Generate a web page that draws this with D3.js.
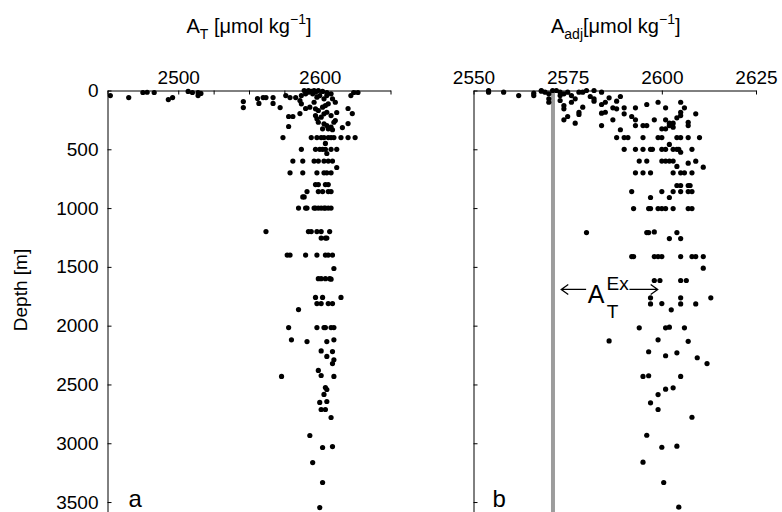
<!DOCTYPE html>
<html><head><meta charset="utf-8">
<script src="https://cdn.jsdelivr.net/npm/d3@7"></script>
<style>
body{margin:0;background:#fff}
svg{display:block}
text{font-family:"Liberation Sans",Arial,Helvetica,sans-serif;fill:#000}
</style>
</head><body>
<svg id="c" width="782" height="512"></svg>
<script>
// ---------- data ----------
const depthTicks = [0, 500, 1000, 1500, 2000, 2500, 3000, 3500];
const alkTTicks = [2450, 2475, 2500, 2525, 2550, 2575, 2600, 2625, 2650];
const alkTLabels = [2500, 2600];
const alkAdjTicks = [2550, 2575, 2600, 2625];
const alkExcessLine = 2571.1;               // grey reference line in panel b
const panelLabels = ["a", "b"];

// panel a: [A_T, depth]
const samplesT = [
  [2452,43],[2465,60],[2475,17],[2478,15],[2483,17],[2493,77],[2496,60],[2507,8],[2510,17],[2514,17],
  [2514,43],[2516,25],[2546,94],[2546,145],[2556,68],[2560,60],[2562,60],[2567,60],[2557,110],[2567,110],
  [2572,145],[2576,43],[2579,60],[2583,60],[2578,221],[2581,221],[2578,306],[2586,196],[2590,153],[2624,17],
  [2627,17],[2622,43],[2620,153],[2623,196],[2620,281],[2616,315],[2612,187],[2611,255],[2587,43],[2590,28],
  [2592,14],[2595,28],[2597,14],[2599,0],[2589,0],[2592,0],[2596,0],[2600,43],[2603,71],[2605,43],
  [2608,28],[2609,71],[2611,100],[2598,57],[2596,100],[2593,142],[2597,156],[2599,170],[2602,142],[2604,128],
  [2606,113],[2597,213],[2598,241],[2601,227],[2603,198],[2605,185],[2608,213],[2599,270],[2603,283],[2605,298],
  [2608,312],[2610,270],[2606,326],[2609,334],[2602,326],[2586,85],[2587,113],[2602,8],[2605,17],[2594,8],
  [2574,400],[2594,400],[2598,400],[2601,400],[2603,400],[2606,400],[2608,400],[2610,400],[2615,400],[2620,400],[2625,400],
  [2604,450],
  [2587,500],[2597,500],[2600,500],[2602,500],[2604,500],[2608,500],[2612,500],
  [2605,536],
  [2581,600],[2588,600],[2596,600],[2599,600],[2603,600],[2606,600],[2609,600],
  [2612,655],
  [2579,700],[2588,700],[2598,700],[2603,700],[2605,700],[2608,700],
  [2597,800],[2599,800],[2604,800],[2606,800],
  [2591,860],[2599,860],[2602,860],[2606,860],[2608,860],
  [2588,905],[2589,905],
  [2585,1000],[2590,1000],[2591,1000],[2596,1000],[2597,1000],[2599,1000],[2601,1000],[2603,1000],[2604,1000],[2606,1000],[2608,1000],
  [2562,1200],[2592,1200],[2594,1200],[2598,1200],[2601,1200],[2607,1200],
  [2601,1255],[2604,1255],[2605,1255],
  [2577,1400],[2579,1400],[2590,1400],[2598,1400],[2604,1400],[2606,1400],[2609,1400],
  [2610,1514],
  [2599,1600],[2601,1600],[2604,1600],[2607,1600],[2608,1605],
  [2597,1760],[2602,1760],[2615,1760],
  [2598,1812],[2601,1812],[2606,1812],[2609,1812],
  [2585,1863],
  [2578,2016],[2598,2016],[2603,2016],[2604,2016],[2608,2016],[2610,2016],
  [2580,2120],[2591,2135],[2605,2135],[2610,2120],
  [2601,2215],[2609,2220],[2605,2262],[2610,2290],[2609,2322],[2599,2381],[2601,2424],[2573,2432],[2610,2432],
  [2604,2526],[2605,2543],[2603,2585],[2605,2645],[2600,2653],[2601,2713],[2604,2713],[2608,2781],
  [2593,2934],[2602,3036],[2609,3028],[2595,3164],[2602,3334],[2600,3547]
];

// panel b: [A_adj, depth]
const samplesAdj = [
  [2554,0],[2554,14],[2558,14],[2562,43],[2566,43],[2566,23],[2568,0],[2568,6],[2569,14],[2570,28],
  [2570,71],[2570,100],[2571,0],[2572,0],[2573,14],[2573,43],[2573,85],[2574,128],[2574,156],[2574,28],
  [2575,14],[2576,43],[2577,71],[2576,100],[2578,14],[2579,14],[2579,142],[2578,185],[2578,204],[2575,221],
  [2574,249],[2577,278],[2581,51],[2582,91],[2582,71],[2584,119],[2584,193],[2585,185],[2585,100],[2586,62],
  [2584,14],[2580,0],[2582,0],[2584,298],[2587,249],[2588,156],[2589,334],[2588,91],
  [2589,51],[2587,147],[2590,147],[2590,198],[2592,221],[2593,249],[2593,147],[2596,119],[2599,100],[2601,147],
  [2605,100],[2606,147],[2605,185],[2605,213],[2604,232],[2609,198],[2598,249],[2601,249],[2593,298],[2595,298],
  [2596,298],[2602,278],[2603,278],[2602,298],[2607,270],[2607,298],[2600,326],[2601,326],[2603,312],
  [2588,400],[2590,400],[2591,400],[2595,400],[2599,400],[2600,400],[2604,400],[2605,400],[2607,400],[2610,400],
  [2602,459],
  [2590,500],[2593,500],[2595,500],[2597,500],[2597.5,500],[2600,500],[2601,500],[2603,500],[2604,500],[2604.5,500],[2608,500],
  [2605,525],
  [2594,600],[2596,600],[2600,600],[2601,600],[2602,600],[2603,600],[2604,646],[2607,618],[2609,601],[2611,652],
  [2593,700],[2595,700],[2597,700],[2603,700],[2605,700],[2606,700],[2608,700],
  [2604,808],[2605,808],[2607,808],[2607.5,808],
  [2592,860],[2600,860],[2603,860],[2605,860],[2607,860],[2608,860],
  [2597,910],[2602,910],
  [2592.5,1004],[2596.5,1004],[2597,1004],[2599,1004],[2600,1004],[2601,1004],[2603,1004],[2607,1004],[2608,1004],
  [2580,1208],[2596,1208],[2596.5,1208],[2598,1203],[2604,1208],
  [2602,1259],[2605,1259],
  [2592,1412],[2592.5,1412],[2598,1412],[2599,1412],[2600,1412],[2605,1412],[2608,1412],[2609,1412],[2611,1412],
  [2611,1511],
  [2598,1616],[2599.5,1616],[2605,1616],[2606.5,1616],
  [2597,1763],[2605,1763],[2613,1763],
  [2597,1815],[2600,1812],[2605,1815],[2609,1815],
  [2602.5,1865],
  [2594,2018],[2601,2018],[2602,2013],[2606,2018],
  [2586,2130],[2599,2120],[2607,2133],
  [2596.5,2222],[2601,2256],[2604,2231],[2609.4,2273],[2612,2322],
  [2595,2432],[2596.5,2426],[2605,2432],
  [2603,2529],[2601,2540],[2599,2586],
  [2597,2656],[2599,2713],[2608,2779],
  [2596,2932],[2600,3034],[2604,3025],[2595,3161],[2600.5,3334],[2604.5,3544]
];

// ---------- drawing ----------
const svg = d3.select("#c");
const y = d3.scaleLinear().domain([0, 3600]).range([90.5, 513.8]);
const xT = d3.scaleLinear().domain([2450, 2650]).range([107.5, 390.5]);
const xA = d3.scaleLinear().domain([2550, 2625]).range([473.5, 756]);
const FONT = 19;

function styleAxis(g) {
  g.attr("font-size", FONT).attr("font-family", '"Liberation Sans", Arial, sans-serif');
  g.selectAll("path.domain").attr("stroke", "#000").attr("stroke-width", 1);
  g.selectAll(".tick line").attr("stroke", "#000").attr("stroke-width", 1);
  g.selectAll(".tick text").attr("fill", "#000");
}

// panel a axes
svg.append("g").attr("transform", `translate(0,${y(0)})`)
  .call(d3.axisTop(xT).tickValues(alkTTicks).tickSizeInner(-4).tickSizeOuter(0).tickPadding(7)
    .tickFormat(d => alkTLabels.includes(d) ? d : ""))
  .call(styleAxis);
svg.append("g").attr("transform", `translate(${xT.range()[0]},0)`)
  .call(d3.axisLeft(y).tickValues(depthTicks).tickSizeInner(-4).tickSizeOuter(0).tickPadding(9)
    .tickFormat(d3.format("d")))
  .call(styleAxis);

// panel b axes
svg.append("g").attr("transform", `translate(0,${y(0)})`)
  .call(d3.axisTop(xA).tickValues(alkAdjTicks).tickSizeInner(-4).tickSizeOuter(0).tickPadding(7)
    .tickFormat(d3.format("d")))
  .call(styleAxis);
svg.append("g").attr("transform", `translate(${xA.range()[0]},0)`)
  .call(d3.axisLeft(y).tickValues(depthTicks).tickSizeInner(-4).tickSizeOuter(0).tickFormat(""))
  .call(styleAxis);

// grey reference line (panel b)
svg.append("line")
  .attr("x1", xA(alkExcessLine)).attr("x2", xA(alkExcessLine))
  .attr("y1", y(0)).attr("y2", 512)
  .attr("stroke", "#9c9c9c").attr("stroke-width", 4);

// points
const R = 2.6;
svg.append("g").selectAll("circle").data(samplesT).join("circle")
  .attr("cx", d => xT(d[0])).attr("cy", d => y(d[1])).attr("r", R).attr("fill", "#000");
svg.append("g").selectAll("circle").data(samplesAdj).join("circle")
  .attr("cx", d => xA(d[0])).attr("cy", d => y(d[1])).attr("r", R).attr("fill", "#000");

// titles
function title(cx, sub) {
  const t = svg.append("text").attr("x", cx).attr("y", 33).attr("text-anchor", "middle").attr("font-size", 20);
  t.append("tspan").text("A");
  t.append("tspan").attr("font-size", 14).attr("dy", 6).text(sub);
  t.append("tspan").attr("dy", -6).text(sub === "T" ? " [μmol kg" : "[μmol kg");
  t.append("tspan").attr("font-size", 14).attr("dy", -9).text("−1");
  t.append("tspan").attr("dy", 9).text("]");
}
title((xT.range()[0] + xT.range()[1]) / 2, "T");
title((xA.range()[0] + xA.range()[1]) / 2 + 1, "adj");

// y label
svg.append("text").attr("transform", "translate(27,290) rotate(-90)")
  .attr("text-anchor", "middle").attr("font-size", FONT).text("Depth [m]");

// panel letters
svg.append("text").attr("x", xT.range()[0] + 21).attr("y", 507).attr("font-size", 24).text(panelLabels[0]);
svg.append("text").attr("x", xA.range()[0] + 19).attr("y", 507).attr("font-size", 24).text(panelLabels[1]);

// annotation  <- A_T^Ex ->
const ay = y(1692);
const ax1 = xA(2573.3), ax2 = xA(2579.9), bx1 = xA(2591.4), bx2 = xA(2598.9);
const ann = svg.append("g").attr("stroke", "#000").attr("stroke-width", 1.3).attr("fill", "none");
ann.append("path").attr("d", `M${ax2},${ay}H${ax1}M${ax1+7},${ay-5}L${ax1},${ay}L${ax1+7},${ay+5}`);
ann.append("path").attr("d", `M${bx1},${ay}H${bx2}M${bx2-7},${ay-5}L${bx2},${ay}L${bx2-7},${ay+5}`);
svg.append("text").attr("x", xA(2580.3)).attr("y", ay + 14).attr("font-size", 25).text("A");
svg.append("text").attr("x", xA(2585.3)).attr("y", ay + 1).attr("font-size", 19).text("Ex");
svg.append("text").attr("x", xA(2585.4)).attr("y", ay + 29).attr("font-size", 19).text("T");
</script>
</body></html>
